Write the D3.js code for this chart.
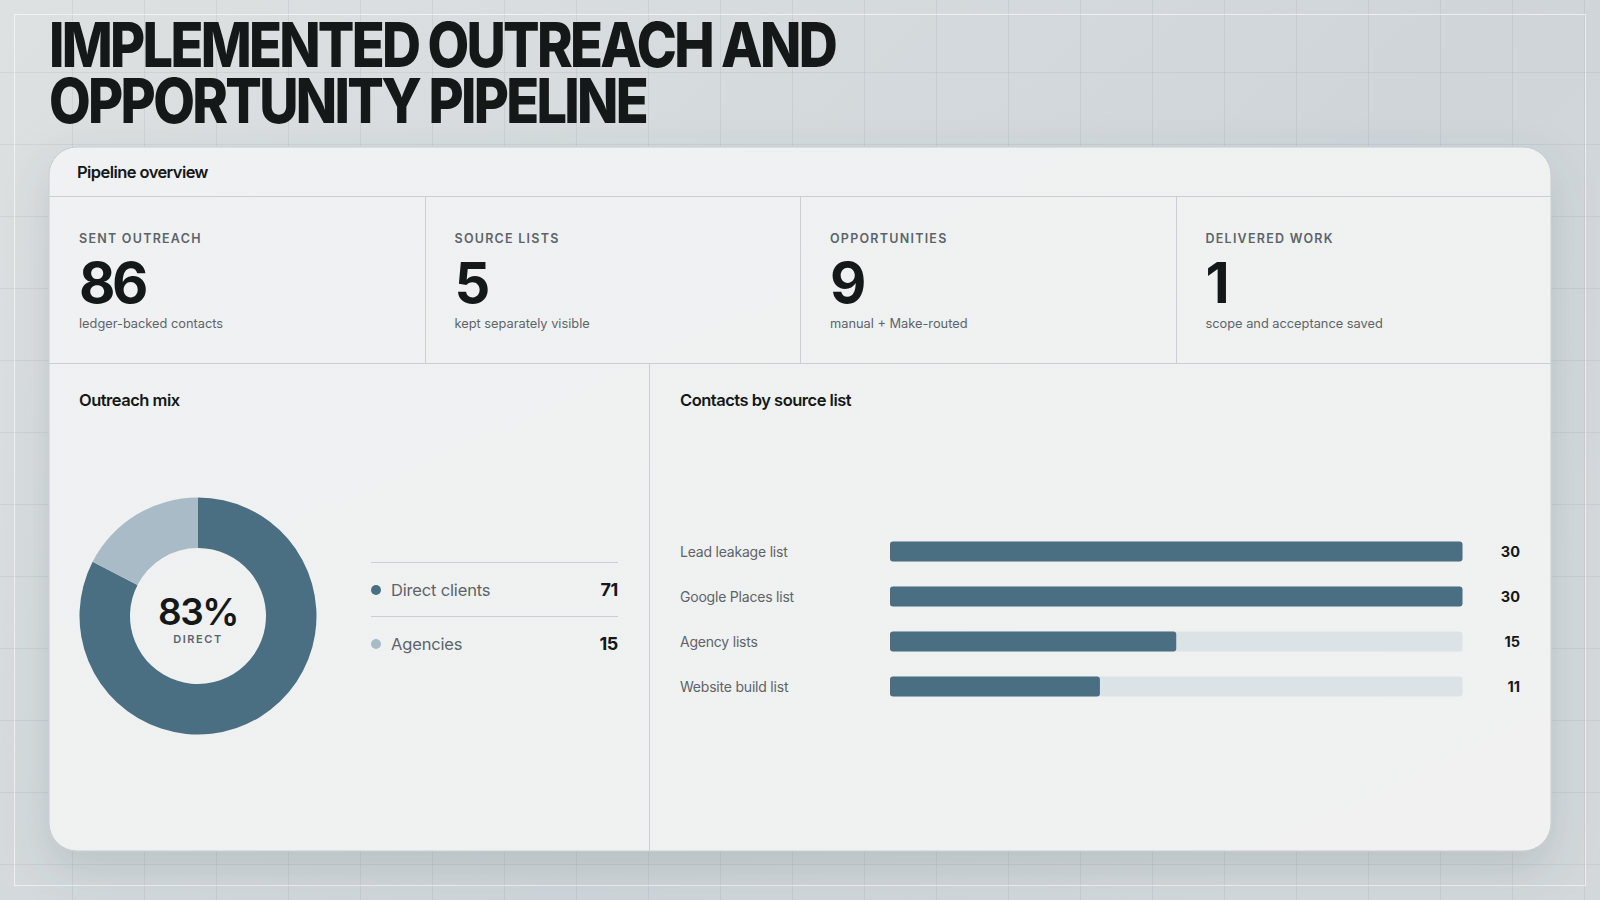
<!DOCTYPE html>
<html>
<head>
<meta charset="utf-8">
<script src="https://cdn.jsdelivr.net/npm/d3@7"></script>
<style>
  html, body { margin: 0; padding: 0; background: #d6dbde; }
  svg { display: block; font-family: Inter, "Noto Sans", sans-serif; }
</style>
</head>
<body>
<svg id="chart" width="1600" height="900"></svg>
<script>
"use strict";

// ---- data ----
var titleLines = ["IMPLEMENTED OUTREACH AND", "OPPORTUNITY PIPELINE"];
var kpiLabels = ["SENT OUTREACH", "SOURCE LISTS", "OPPORTUNITIES", "DELIVERED WORK"];
var kpiValues = [86, 5, 9, 1];
var kpiNotes = ["ledger-backed contacts", "kept separately visible", "manual + Make-routed", "scope and acceptance saved"];

var mixLabels = ["Direct clients", "Agencies"];
var mixValues = [71, 15];

var sourceLabels = ["Lead leakage list", "Google Places list", "Agency lists", "Website build list"];
var sourceValues = [30, 30, 15, 11];

var W = 1600, H = 900;
var ink = "#141818", muted = "#5d6469", line = "#c9cfd2";
var dark = "#4b6f82", light = "#a8bbc7", track = "#dce3e6";

var svg = d3.select("#chart");
var defs = svg.append("defs");

// background
var bg = defs.append("linearGradient").attr("id", "bg").attr("x1", 0).attr("y1", 0).attr("x2", 1).attr("y2", 0.6);
bg.append("stop").attr("offset", 0).attr("stop-color", "#dde1e2");
bg.append("stop").attr("offset", 0.7).attr("stop-color", "#cfd5d9");
bg.append("stop").attr("offset", 1).attr("stop-color", "#d3d8db");
svg.append("rect").attr("width", W).attr("height", H).attr("fill", "url(#bg)");

var grid = svg.append("g").attr("stroke", "rgba(120,130,138,0.13)").attr("stroke-width", 1);
d3.range(72, W, 72).forEach(function (x) {
    grid.append("line").attr("x1", x + 0.5).attr("x2", x + 0.5).attr("y1", 0).attr("y2", H);
});
d3.range(72, H, 72).forEach(function (y) {
    grid.append("line").attr("y1", y + 0.5).attr("y2", y + 0.5).attr("x1", 0).attr("x2", W);
});
svg.append("rect").attr("x", 14.5).attr("y", 14.5).attr("width", W - 29).attr("height", H - 29)
    .attr("fill", "none").attr("stroke", "rgba(255,255,255,0.6)");

// title: one text block, two tight lines (as in the reference)
var titleWidths = [786, 597];
var title = svg.append("text").attr("fill", ink).attr("font-weight", 800).attr("font-size", 62)
    .attr("letter-spacing", "-0.05em");
titleLines.forEach(function (t, i) {
    title.append("tspan").attr("x", 49).attr("y", 67 + i * 56).attr("textLength", titleWidths[i])
        .attr("lengthAdjust", "spacingAndGlyphs").text(t);
});

// card
var card = { x: 49, y: 147, w: 1502, h: 704, r: 28 };
var sh = defs.append("filter").attr("id", "shadow").attr("x", -0.1).attr("y", -0.1).attr("width", 1.2).attr("height", 1.3);
sh.append("feDropShadow").attr("dx", 0).attr("dy", 18).attr("stdDeviation", 22).attr("flood-color", "#4a5860").attr("flood-opacity", 0.18);
var cg = defs.append("linearGradient").attr("id", "cardbg").attr("x1", 0).attr("y1", 0).attr("x2", 1).attr("y2", 1);
cg.append("stop").attr("offset", 0).attr("stop-color", "#eff1f2");
cg.append("stop").attr("offset", 1).attr("stop-color", "#f0f1f0");
svg.append("rect").attr("x", card.x).attr("y", card.y).attr("width", card.w).attr("height", card.h)
    .attr("rx", card.r).attr("fill", "url(#cardbg)").attr("stroke", "#c6ccd0").attr("filter", "url(#shadow)");

var headY = 196, kpiY = 363;
svg.append("text").attr("x", 77).attr("y", 178).attr("font-size", 16.5).attr("font-weight", 600)
    .attr("letter-spacing", "-0.035em").attr("fill", ink).text("Pipeline overview");

var rules = svg.append("g").attr("stroke", line).attr("stroke-width", 1);
rules.append("line").attr("x1", card.x).attr("x2", card.x + card.w).attr("y1", headY + 0.5).attr("y2", headY + 0.5);
rules.append("line").attr("x1", card.x).attr("x2", card.x + card.w).attr("y1", kpiY + 0.5).attr("y2", kpiY + 0.5);

// KPI row
var kx = d3.scaleBand().domain(d3.range(kpiLabels.length)).range([card.x, card.x + card.w]);
d3.range(1, kpiLabels.length).forEach(function (i) {
    var x = Math.round(kx(i)) + 0.5;
    rules.append("line").attr("x1", x).attr("x2", x).attr("y1", headY).attr("y2", kpiY);
});
var kpi = svg.append("g").selectAll("g").data(kpiLabels).join("g")
    .attr("transform", function (d, i) { return "translate(" + (kx(i) + 30) + ",0)"; });
kpi.append("text").attr("y", 243).attr("font-size", 12.5).attr("font-weight", 600).attr("letter-spacing", "0.1em")
    .attr("fill", muted).text(function (d) { return d; });
kpi.append("text").attr("y", 303).attr("font-size", 56).attr("font-weight", 700).attr("letter-spacing", "-0.06em")
    .attr("fill", ink).text(function (d, i) { return kpiValues[i]; });
kpi.append("text").attr("y", 328).attr("font-size", 12.8).attr("fill", muted)
    .text(function (d, i) { return kpiNotes[i]; });

// lower panels
var splitX = 649;
rules.append("line").attr("x1", splitX + 0.5).attr("x2", splitX + 0.5).attr("y1", kpiY).attr("y2", card.y + card.h);
svg.append("text").attr("x", 79).attr("y", 406).attr("font-size", 16.5).attr("font-weight", 600)
    .attr("letter-spacing", "-0.03em").attr("fill", ink).text("Outreach mix");
svg.append("text").attr("x", 680).attr("y", 406).attr("font-size", 16.5).attr("font-weight", 600)
    .attr("letter-spacing", "-0.03em").attr("fill", ink).text("Contacts by source list");

// donut
var cx = 198, cy = 616;
var color = d3.scaleOrdinal().domain(mixLabels).range([dark, light]);
var pie = d3.pie().sort(null).value(function (d) { return d; });
var arc = d3.arc().innerRadius(68).outerRadius(118.5);
var donut = svg.append("g").attr("transform", "translate(" + cx + "," + cy + ")");
donut.selectAll("path").data(pie(mixValues)).join("path")
    .attr("d", arc).attr("fill", function (d, i) { return color(mixLabels[i]); });
var total = d3.sum(mixValues);
donut.append("text").attr("y", 9).attr("text-anchor", "middle").attr("font-size", 37).attr("font-weight", 600)
    .attr("letter-spacing", "-0.04em").attr("fill", ink).text(d3.format(".0%")(mixValues[0] / total));
donut.append("text").attr("y", 27).attr("text-anchor", "middle").attr("font-size", 11).attr("font-weight", 600)
    .attr("letter-spacing", "0.14em").attr("fill", muted).text("DIRECT");

// legend
var lx0 = 371, lx1 = 618;
var ly = d3.scaleBand().domain(mixLabels).range([562, 670]);
var leg = svg.append("g").selectAll("g").data(mixLabels).join("g")
    .attr("transform", function (d) { return "translate(0," + ly(d) + ")"; });
leg.append("line").attr("x1", lx0).attr("x2", lx1).attr("y1", 0.5).attr("y2", 0.5).attr("stroke", line);
leg.append("circle").attr("cx", lx0 + 5).attr("cy", ly.bandwidth() / 2 + 1).attr("r", 5)
    .attr("fill", function (d) { return color(d); });
leg.append("text").attr("x", lx0 + 20).attr("y", ly.bandwidth() / 2 + 7).attr("font-size", 16.5)
    .attr("letter-spacing", "-0.01em").attr("fill", muted).text(function (d) { return d; });
leg.append("text").attr("x", lx1).attr("y", ly.bandwidth() / 2 + 7).attr("text-anchor", "end")
    .attr("font-size", 18).attr("font-weight", 700).attr("letter-spacing", "-0.02em").attr("fill", ink)
    .text(function (d, i) { return mixValues[i]; });

// bars
var x = d3.scaleLinear().domain([0, d3.max(sourceValues)]).range([890, 1462.5]);
var y = d3.scaleBand().domain(sourceLabels).range([529, 709]).paddingInner(0.5555).paddingOuter(0.2777);
var rows = svg.append("g").selectAll("g").data(sourceLabels).join("g")
    .attr("transform", function (d) { return "translate(0," + y(d) + ")"; });
rows.append("rect").attr("x", x(0)).attr("width", x.range()[1] - x(0)).attr("height", y.bandwidth())
    .attr("rx", 3).attr("fill", track);
rows.append("rect").attr("x", x(0)).attr("width", function (d, i) { return x(sourceValues[i]) - x(0); })
    .attr("height", y.bandwidth()).attr("rx", 3).attr("fill", dark);
rows.append("text").attr("x", 680).attr("y", y.bandwidth() / 2 + 5.5).attr("font-size", 14)
    .attr("letter-spacing", "-0.015em").attr("fill", muted).text(function (d) { return d; });
rows.append("text").attr("x", 1520).attr("y", y.bandwidth() / 2 + 5.5).attr("text-anchor", "end")
    .attr("font-size", 14.5).attr("font-weight", 700).attr("fill", ink)
    .text(function (d, i) { return sourceValues[i]; });
</script>
</body>
</html>
